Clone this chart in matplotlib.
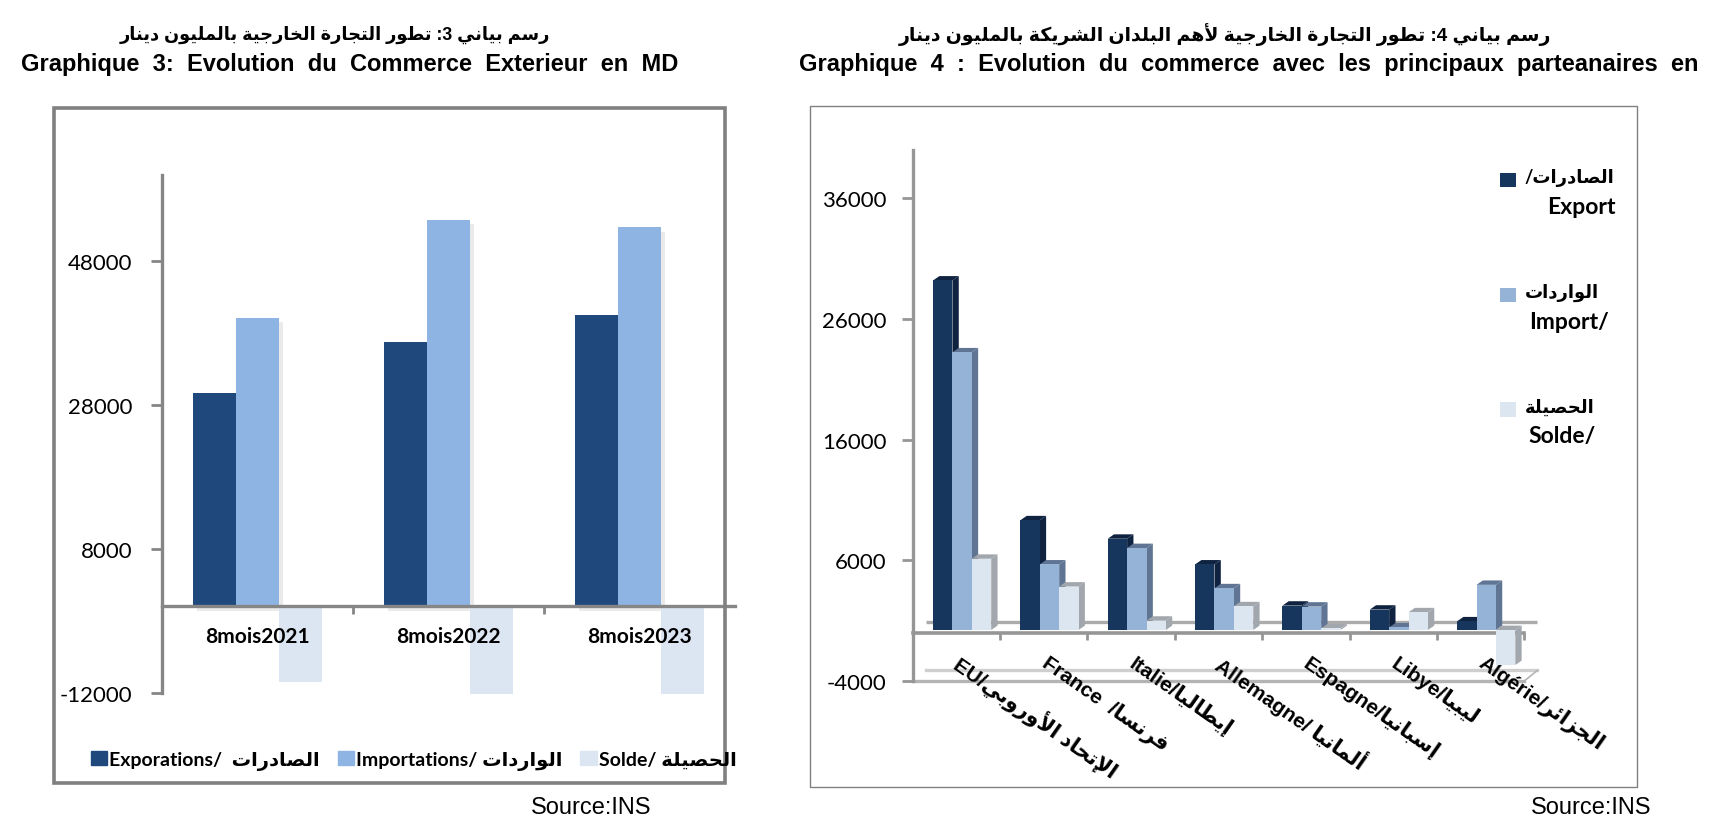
import re
import matplotlib
matplotlib.use("Agg")
import matplotlib.pyplot as plt
import matplotlib.patheffects as pe
from matplotlib.patches import Rectangle, Patch
from matplotlib.legend_handler import HandlerBase

plt.rcParams["axes.unicode_minus"] = False

# ---------- data ----------
periods = ["8mois2021", "8mois2022", "8mois2023"]
exports_md = [29600, 36750, 40550]
imports_md = [40100, 53780, 52700]
solde_md = [-10500, -12200, -12200]
ticks_md = [-12000, 8000, 28000, 48000]

partners_fr = ["EU/", "France  /", "Italie/", "Allemagne/ ", "Espagne/", "Libye/", "Algérie/"]
partners_ar = ["الإتحاد الأوروبي", "فرنسا", "إيطاليا", "ألمانيا", "إسبانيا", "ليبيا", "الجزائر"]
exports_p = [28950, 9090, 7560, 5430, 2020, 1690, 720]
imports_p = [23000, 5430, 6790, 3460, 1940, 220, 3740]
solde_p = [5900, 3600, 775, 1970, 140, 1470, -2900]
ticks_p = [-4000, 6000, 16000, 26000, 36000]

title3_ar = "رسم بياني 3: تطور التجارة الخارجية بالمليون دينار"
title3_fr = "Graphique 3: Evolution du Commerce Exterieur en MD"
title4_ar = "رسم بياني 4: تطور التجارة الخارجية لأهم البلدان الشريكة بالمليون دينار"
title4_fr = "Graphique 4 : Evolution du commerce avec les principaux parteanaires en"

# ---------- Arabic shaping (matplotlib has no shaping or bidi) ----------
FORMS = {
    "ء": (0xFE80,), "أ": (0xFE83, 0xFE84), "إ": (0xFE87, 0xFE88),
    "ئ": (0xFE89, 0xFE8A, 0xFE8B, 0xFE8C), "ا": (0xFE8D, 0xFE8E),
    "ب": (0xFE8F, 0xFE90, 0xFE91, 0xFE92), "ة": (0xFE93, 0xFE94),
    "ت": (0xFE95, 0xFE96, 0xFE97, 0xFE98), "ج": (0xFE9D, 0xFE9E, 0xFE9F, 0xFEA0),
    "ح": (0xFEA1, 0xFEA2, 0xFEA3, 0xFEA4), "خ": (0xFEA5, 0xFEA6, 0xFEA7, 0xFEA8),
    "د": (0xFEA9, 0xFEAA), "ر": (0xFEAD, 0xFEAE), "ز": (0xFEAF, 0xFEB0),
    "س": (0xFEB1, 0xFEB2, 0xFEB3, 0xFEB4), "ش": (0xFEB5, 0xFEB6, 0xFEB7, 0xFEB8),
    "ص": (0xFEB9, 0xFEBA, 0xFEBB, 0xFEBC), "ط": (0xFEC1, 0xFEC2, 0xFEC3, 0xFEC4),
    "ف": (0xFED1, 0xFED2, 0xFED3, 0xFED4), "ك": (0xFED9, 0xFEDA, 0xFEDB, 0xFEDC),
    "ل": (0xFEDD, 0xFEDE, 0xFEDF, 0xFEE0), "م": (0xFEE1, 0xFEE2, 0xFEE3, 0xFEE4),
    "ن": (0xFEE5, 0xFEE6, 0xFEE7, 0xFEE8), "ه": (0xFEE9, 0xFEEA, 0xFEEB, 0xFEEC),
    "و": (0xFEED, 0xFEEE), "ي": (0xFEF1, 0xFEF2, 0xFEF3, 0xFEF4),
}
LAMALEF = {"أ": (0xFEF7, 0xFEF8), "إ": (0xFEF9, 0xFEFA), "ا": (0xFEFB, 0xFEFC)}


def ar(text):
    out = []
    i, n = 0, len(text)
    prev_joins = False
    while i < n:
        c = text[i]
        if c not in FORMS:
            out.append(c)
            prev_joins = False
            i += 1
            continue
        nxt = text[i + 1] if i + 1 < n else ""
        if c == "ل" and nxt in LAMALEF:
            out.append(chr(LAMALEF[nxt][1 if prev_joins else 0]))
            prev_joins = False
            i += 2
            continue
        f = FORMS[c]
        joins_next = len(f) == 4 and nxt in FORMS
        if prev_joins and joins_next:
            g = f[3]
        elif prev_joins:
            g = f[1]
        elif joins_next:
            g = f[2]
        else:
            g = f[0]
        out.append(chr(g))
        prev_joins = joins_next
        i += 1
    vis = "".join(reversed(out))
    return re.sub(r"[A-Za-z0-9]+", lambda m: m.group(0)[::-1], vis)


# ---------- layout ----------
W, H = 1568.0, 758.0
fig = plt.figure(figsize=(17.12, 8.28), dpi=100, facecolor="white")


def fx(x):
    return x / W


def fy(y):
    return 1 - y / H


def axes_px(x0, y0, x1, y1):
    return fig.add_axes([fx(x0), fy(y1), (x1 - x0) / W, (y1 - y0) / H])


SANS = ["Liberation Sans", "DejaVu Sans"]
UI = ["Lato", "DejaVu Sans"]


def frame(x0, y0, x1, y1, lw):
    fig.add_artist(Rectangle((fx(x0), fy(y1)), (x1 - x0) / W, (y1 - y0) / H,
                             transform=fig.transFigure, fill=False,
                             edgecolor="#808080", linewidth=lw))


frame(49, 100, 664, 718, 2.6)
frame(742, 98, 1499, 721, 1.0)

fig.text(fx(307), fy(32), ar(title3_ar), ha="center", va="center",
         family=SANS, weight="bold", fontsize=12.8)
fig.text(fx(320), fy(59), title3_fr.replace(" ", "  "), ha="center", va="center",
         family=SANS, weight="bold", fontsize=17)
fig.text(fx(1122), fy(32), ar(title4_ar), ha="center", va="center",
         family=SANS, weight="bold", fontsize=13.6)
fig.text(fx(1144), fy(59), title4_fr.replace(" ", "  "), ha="center", va="center",
         family=SANS, weight="bold", fontsize=17)
fig.text(fx(486), fy(740), "Source:INS", ha="left", va="center",
         family=SANS, fontsize=17)
fig.text(fx(1402), fy(740), "Source:INS", ha="left", va="center",
         family=SANS, fontsize=17)

# ---------- Graphique 3 ----------
C1, C2, C3 = "#1F497D", "#8EB4E3", "#DCE6F2"
GREY = "#868686"
ax = axes_px(148, 161, 673, 635)
ax.set_xlim(-0.5, 2.5)
ax.set_ylim(-12000, 60000)
w = 0.225
shadow = [pe.SimplePatchShadow(offset=(3, -3), alpha=0.12, shadow_rgbFace="#555555"), pe.Normal()]
xs = list(range(len(periods)))
b1 = ax.bar([x - w for x in xs], exports_md, w, color=C1, clip_on=False)
b2 = ax.bar(xs, imports_md, w, color=C2, clip_on=False)
b3 = ax.bar([x + w for x in xs], solde_md, w, color=C3, clip_on=False)
for b in (b1, b2):
    for r in b:
        r.set_path_effects(shadow)
for s in ("top", "right"):
    ax.spines[s].set_visible(False)
ax.spines["left"].set_color(GREY)
ax.spines["left"].set_linewidth(2.4)
ax.spines["bottom"].set_position(("data", 0))
ax.spines["bottom"].set_color(GREY)
ax.spines["bottom"].set_linewidth(2.4)
ax.set_yticks(ticks_md)
ax.tick_params(axis="y", length=8, width=2, color=GREY, pad=13, labelsize=16)
ax.set_xticks(xs)
ax.set_xticklabels(periods, family=UI, weight="bold", fontsize=15)
ax.tick_params(axis="x", which="major", length=0, pad=14)
ax.set_xticks([0.5, 1.5], minor=True)
ax.tick_params(axis="x", which="minor", length=6, width=2, color=GREY)
for t in ax.get_yticklabels():
    t.set_fontfamily(UI)

leg = fig.legend(
    [Patch(color=C1), Patch(color=C2), Patch(color=C3)],
    ["Exporations/  " + ar("الصادرات"), "Importations/ " + ar("الواردات"), "Solde/ " + ar("الحصيلة")],
    loc="center left", bbox_to_anchor=(fx(83), fy(697)), ncol=3, frameon=False,
    prop={"family": UI, "weight": "bold", "size": 14},
    handlelength=0.85, handleheight=0.75, handletextpad=0.1, columnspacing=0.92, borderpad=0, borderaxespad=0,
)

# ---------- Graphique 4 (pseudo 3D columns) ----------
SER = [("#17365D", "#0F2340"), ("#95B3D7", "#5F7593"), ("#DCE6F1", "#A2A7AD")]
ax2 = axes_px(836, 138.1, 1396, 624.4)
ax2.set_xlim(-0.5, 6.5)
ax2.set_ylim(-4000, 40000)
bw = 0.222
depth_x = 5.8 / 80
depth_y = 4 / 110 * 10000
lift = 230
wall_x = 12 / 80
wall_y = 880
xp = list(range(len(partners_fr)))
ax2.plot([-0.5 + wall_x, 6.5 + wall_x], [wall_y, wall_y], color="#ABABAB", lw=2.4, zorder=0.5,
         solid_capstyle="butt", clip_on=False)
ax2.plot([-0.5 + wall_x, 6.5 + wall_x], [-4000 + wall_y, -4000 + wall_y], color="#CFCFCF", lw=2.4,
         zorder=0.5, clip_on=False)
ax2.plot([-0.5, 6.5], [-4000, -4000], color="#B4B4B4", lw=2.4, zorder=0.5, clip_on=False)
ax2.plot([6.5, 6.5 + wall_x], [-4000, -4000 + wall_y], color="#B4B4B4", lw=1.2, zorder=0.5, clip_on=False)

handles = []
for k, (vals, (cf, cs)) in enumerate(zip((exports_p, imports_p, solde_p), SER)):
    off = 0.065 + (k - 1) * bw
    z = 2 + k
    bars = ax2.bar([x + off for x in xp], vals, bw, bottom=lift, color=cf, zorder=z + 0.5, clip_on=False)
    handles.append(bars[0])
    for x, v in zip(xp, vals):
        l = x + off - bw / 2
        r = l + bw
        t = lift + max(v, 0)
        b = lift + min(v, 0)
        ax2.fill([r, r + depth_x, r + depth_x, r], [b, b + depth_y, t + depth_y, t],
                 color=cs, lw=0, zorder=z, clip_on=False)
        ax2.fill([l, l + depth_x, r + depth_x, r], [t, t + depth_y, t + depth_y, t],
                 color=cs, lw=0, zorder=z, clip_on=False)

for s in ("top", "right"):
    ax2.spines[s].set_visible(False)
ax2.spines["left"].set_color("#969696")
ax2.spines["left"].set_linewidth(2.4)
ax2.spines["bottom"].set_position(("data", 0))
ax2.spines["bottom"].set_color("#969696")
ax2.spines["bottom"].set_linewidth(2.6)
ax2.spines["bottom"].set_zorder(1)
ax2.set_yticks(ticks_p)
ax2.tick_params(axis="y", length=8, width=2, color="#969696", pad=11, labelsize=16)
for t in ax2.get_yticklabels():
    t.set_fontfamily(UI)
ax2.set_xticks(xp)
labels_p = [a + ar(b) for a, b in zip(partners_fr, partners_ar)]
ax2.set_xticklabels(labels_p, rotation=-35, ha="left", va="center", rotation_mode="anchor",
                    family=SANS, weight="bold", fontsize=15)
ax2.tick_params(axis="x", which="major", length=0, pad=20)
ax2.set_xticks([x + 0.5 for x in xp], minor=True)
ax2.tick_params(axis="x", which="minor", length=5, width=2, color="#969696")


class RaisedSquare(HandlerBase):
    def create_artists(self, legend, orig, xd, yd, width, height, fontsize, trans):
        return [Rectangle((-xd, -yd - 3), width, height, facecolor=orig.get_facecolor(),
                          edgecolor="none", transform=trans)]


leg2 = ax2.legend(
    handles,
    [ar("الصادرات/"), ar("الواردات"), ar("الحصيلة")],
    loc="upper left", bbox_to_anchor=(fx(1374), fy(155)), bbox_transform=fig.transFigure,
    frameon=False, prop={"family": UI, "weight": "bold", "size": 13},
    handlelength=0.85, handleheight=0.85, handletextpad=0.5, labelspacing=5.35, borderpad=0, borderaxespad=0,
    handler_map={h: RaisedSquare() for h in handles},
)
for name, cx, cy in (("Export", 1448.5, 189.5), ("Import/", 1437, 295), ("Solde/", 1431, 400)):
    fig.text(fx(cx), fy(cy), name, ha="center", va="center", family=UI, weight="bold", fontsize=16.5)

fig.savefig("out.png", dpi=100)
